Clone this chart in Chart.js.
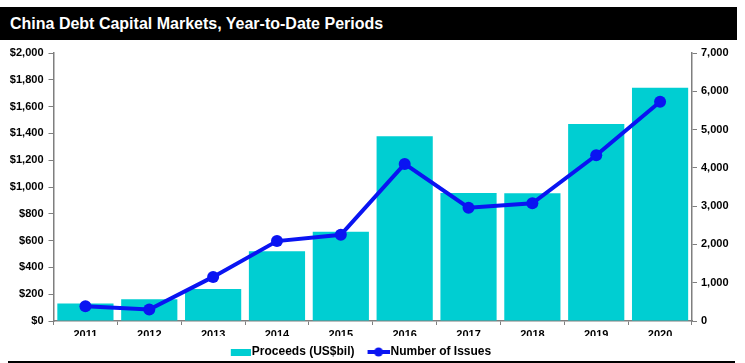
<!DOCTYPE html>
<html>
<head>
<meta charset="utf-8">
<script src="https://cdn.jsdelivr.net/npm/chart.js@4.4.1/dist/chart.umd.min.js"></script>
<style>
  html, body { margin: 0; padding: 0; background: #fff; }
  #wrap { position: relative; width: 745px; height: 363px; overflow: hidden; }
  #title { position: absolute; left: 0; top: 7px; width: 737px; height: 33px; background: #000; color: #fff;
           font: bold 16px "Liberation Sans", Arial, sans-serif; line-height: 34px; padding-left: 10px; box-sizing: border-box; }
  #bottomLine { position: absolute; left: 8px; top: 361px; width: 727px; height: 2px; background: #000; }
  canvas { position: absolute; left: 0; top: 0; }
</style>
</head>
<body>
<div id="wrap">
  <canvas id="c" width="745" height="363"></canvas>
  <div id="title">China Debt Capital Markets, Year-to-Date Periods</div>
  <div id="bottomLine"></div>
</div>
<script>
const years = ['2011','2012','2013','2014','2015','2016','2017','2018','2019','2020'];
const proceeds = [130, 162, 239, 521, 666, 1379, 955, 953, 1471, 1741];
const issues = [385, 298, 1152, 2087, 2251, 4102, 2958, 3073, 4330, 5726];
const leftTicks = [0, 200, 400, 600, 800, 1000, 1200, 1400, 1600, 1800, 2000];
const rightTicks = [0, 1000, 2000, 3000, 4000, 5000, 6000, 7000];
const seriesNames = ['Proceeds (US$bil)', 'Number of Issues'];

const BAR_COLOR = '#00CED2';
const LINE_COLOR = '#0A14F2';
const AXIS_COLOR = '#7f7f7f';
const FONT = '"Liberation Sans", Arial, sans-serif';

function makeIcon(kind) {
  const cv = document.createElement('canvas');
  cv.width = 30; cv.height = 12;
  const g = cv.getContext('2d');
  if (kind === 'bar') {
    g.fillStyle = BAR_COLOR;
    g.fillRect(10, 3, 20, 7);
  } else {
    g.strokeStyle = LINE_COLOR; g.lineWidth = 4;
    g.beginPath(); g.moveTo(8, 6); g.lineTo(30, 6); g.stroke();
    g.fillStyle = LINE_COLOR;
    g.beginPath(); g.arc(19, 6, 4.5, 0, Math.PI * 2); g.fill();
  }
  return cv;
}
const icons = [makeIcon('bar'), makeIcon('line')];

new Chart(document.getElementById('c'), {
  data: {
    labels: years,
    datasets: [
      { type: 'bar', label: seriesNames[0], data: proceeds, yAxisID: 'y', backgroundColor: BAR_COLOR,
        borderWidth: 0, categoryPercentage: 1.0, barPercentage: 0.88, order: 2 },
      { type: 'line', label: seriesNames[1], data: issues, yAxisID: 'y1', borderColor: LINE_COLOR,
        backgroundColor: LINE_COLOR, borderWidth: 4, pointRadius: 6, pointBackgroundColor: LINE_COLOR,
        pointBorderWidth: 0, tension: 0, order: 1 }
    ]
  },
  options: {
    responsive: false,
    animation: false,
    layout: { padding: { top: 53, left: -28, right: 0, bottom: -5 } },
    plugins: {
      tooltip: { enabled: false },
      legend: {
        position: 'bottom',
        labels: {
          usePointStyle: true,
          pointStyleWidth: 20,
          padding: 10,
          color: '#000',
          font: { family: FONT, size: 12, weight: 'bold' },
          generateLabels: () => seriesNames.map((n, i) => ({
            text: n, pointStyle: icons[i], fillStyle: i ? LINE_COLOR : BAR_COLOR,
            strokeStyle: 'transparent', lineWidth: 0, datasetIndex: i, hidden: false
          }))
        }
      }
    },
    scales: {
      x: {
        offset: true,
        grid: { offset: true, drawOnChartArea: false, drawTicks: true, tickLength: 4, color: AXIS_COLOR },
        border: { display: true, color: AXIS_COLOR, width: 1.5 },
        ticks: { color: '#000', padding: 3, font: { family: FONT, size: 11, weight: 'bold' }, maxRotation: 0 },
        afterFit: s => { s.height = 15; }
      },
      y: {
        position: 'left', min: 0, max: 2000,
        afterBuildTicks: s => { s.ticks = leftTicks.map(v => ({ value: v })); },
        grid: { drawOnChartArea: false, drawTicks: true, tickLength: 5, color: AXIS_COLOR },
        border: { display: true, color: AXIS_COLOR, width: 1.5 },
        ticks: { color: '#000', padding: 5, font: { family: FONT, size: 11, weight: 'bold' },
                 callback: v => '$' + v.toLocaleString('en-US') },
        afterFit: s => { s.width = 81.5; }
      },
      y1: {
        position: 'right', min: 0, max: 7000,
        afterBuildTicks: s => { s.ticks = rightTicks.map(v => ({ value: v })); },
        grid: { drawOnChartArea: false, drawTicks: true, tickLength: 5, color: AXIS_COLOR },
        border: { display: true, color: AXIS_COLOR, width: 1.5 },
        ticks: { color: '#000', padding: 4, font: { family: FONT, size: 11, weight: 'bold' },
                 callback: v => v.toLocaleString('en-US') },
        afterFit: s => { s.width = 53; }
      }
    }
  }
});
</script>
</body>
</html>
